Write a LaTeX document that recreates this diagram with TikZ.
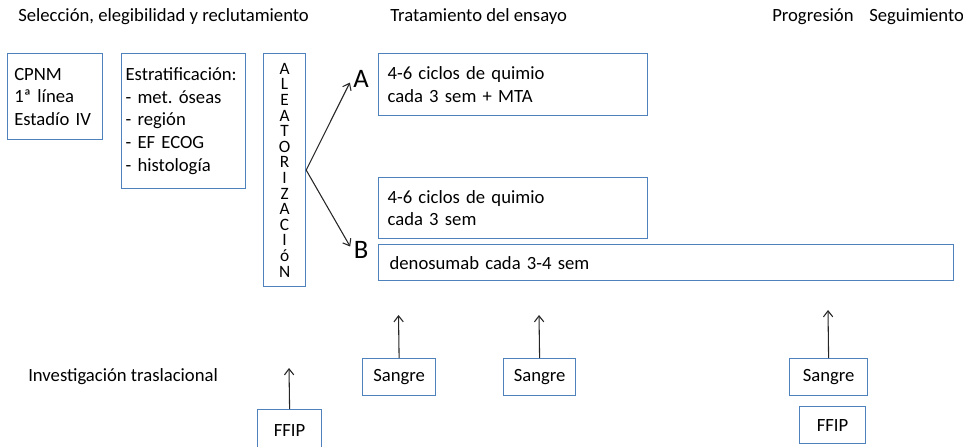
\documentclass[tikz,border=0pt]{standalone}
\usepackage{fontspec}
\setmainfont{Carlito}
\usepackage{xcolor}
\usetikzlibrary{arrows, arrows.meta, positioning}
\definecolor{cajaazul}{RGB}{79,129,189}
\frenchspacing

\begin{document}
\begin{tikzpicture}[
    x=0.75pt, y=-0.75pt,
    caja/.style={rectangle, draw=cajaazul, line width=0.9pt, anchor=north west, align=left, inner ysep=0pt, font=\fontsize{14}{16.9}\selectfont},
    muestra/.style={rectangle, draw=cajaazul, line width=0.9pt, anchor=north west, inner sep=0pt, minimum height=27.75pt, text centered, font=\fontsize{14}{16}\selectfont},
    titulo/.style={anchor=west, inner sep=0pt, font=\fontsize{14}{16}\selectfont},
    rama/.style={inner sep=1pt, font=\fontsize{20}{24}\selectfont},
    arrow/.style={-{Straight Barb[length=4.5pt, width=7pt]}, line width=0.8pt, black!85}
]
\useasboundingbox (0,0) rectangle (963,446);

\node[titulo] (tsel) at (18,17) {Selección, elegibilidad y reclutamiento};
\node[titulo] (ttrat) at (390,17) {Tratamiento del ensayo};
\node[titulo] (tprog) at (772,17) {Progresión};
\node[titulo] (tseg) at (869,17) {Seguimiento};

\node[caja, text width=61.25pt, inner xsep=5pt, minimum height=64.5pt] (cpnm) at (7,53) {CPNM\\1ª línea\\Estadío IV};
\node[caja, text width=87pt, inner xsep=3pt, minimum height=101.25pt] (estrat) at (121,53) {Estratificación:\\- met. óseas\\- región\\- EF ECOG\\- histología};
\node[caja, align=center, inner sep=0pt, minimum width=31.5pt, minimum height=174.75pt, font=\fontsize{13}{11.7}\selectfont] (alea) at (263,53) {A\\L\\E\\A\\T\\O\\R\\I\\Z\\A\\C\\I\\ó\\N};

\node[rama] (ramaA) at (361,79) {A};
\node[rama] (ramaB) at (361,250) {B};

\node[caja, text width=188.25pt, inner xsep=6.75pt, minimum height=46.5pt] (quimioA) at (378,53) {4-6 ciclos de quimio\\cada 3 sem + MTA};
\node[caja, text width=188.25pt, inner xsep=6.75pt, minimum height=45.75pt] (quimioB) at (378,177) {4-6 ciclos de quimio\\cada 3 sem};
\node[caja, text width=414.75pt, inner xsep=8.25pt, minimum height=27pt] (denos) at (378,244) {denosumab cada 3-4 sem};

\node[titulo] (inv) at (28,377) {Investigación traslacional};

\node[muestra, minimum width=48pt, minimum height=30.75pt] (ffip1) at (257,409) {FFIP};
\node[muestra, minimum width=54.75pt] (sangre1) at (362,358) {Sangre};
\node[muestra, minimum width=54pt] (sangre2) at (503,358) {Sangre};
\node[muestra, minimum width=58.5pt] (sangre3) at (789,358) {Sangre};
\node[muestra, minimum width=49.5pt] (ffip2) at (799,406) {FFIP};

\coordinate (m1) at (289,368);
\coordinate (m2) at (398.5,315);
\coordinate (m3) at (539,315);
\coordinate (m4) at (828,310);

\draw[arrow, shorten >=3pt] (alea.east) -- (ramaA.west);
\draw[arrow, shorten >=3pt] (alea.east) -- (ramaB.west);
\draw[arrow] (ffip1.north) -- (m1);
\draw[arrow] (sangre1.north) -- (m2);
\draw[arrow] (sangre2.north) -- (m3);
\draw[arrow] (sangre3.north) -- (m4);

\end{tikzpicture}
\end{document}
